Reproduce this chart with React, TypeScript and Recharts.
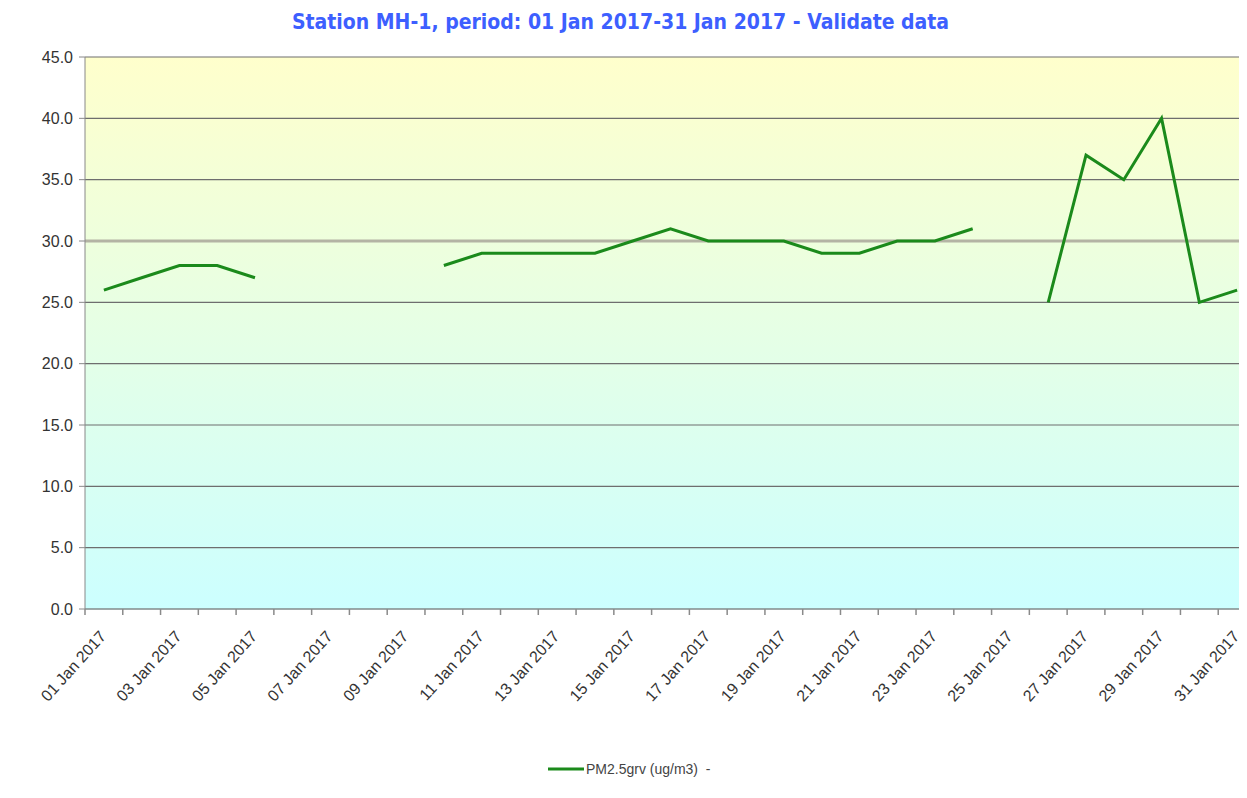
import { LineChart, Line, XAxis, YAxis, CartesianGrid, ReferenceLine, Legend } from 'recharts';

const dates = [
  '01 Jan 2017', '02 Jan 2017', '03 Jan 2017', '04 Jan 2017', '05 Jan 2017', '06 Jan 2017', '07 Jan 2017',
  '08 Jan 2017', '09 Jan 2017', '10 Jan 2017', '11 Jan 2017', '12 Jan 2017', '13 Jan 2017', '14 Jan 2017',
  '15 Jan 2017', '16 Jan 2017', '17 Jan 2017', '18 Jan 2017', '19 Jan 2017', '20 Jan 2017', '21 Jan 2017',
  '22 Jan 2017', '23 Jan 2017', '24 Jan 2017', '25 Jan 2017', '26 Jan 2017', '27 Jan 2017', '28 Jan 2017',
  '29 Jan 2017', '30 Jan 2017', '31 Jan 2017',
];

const pm25 = [
  26, 27, 28, 28, 27, null, null, null, null, 28, 29, 29, 29, 29, 30, 31,
  30, 30, 30, 29, 29, 30, 30, 31, null, 25, 37, 35, 40, 25, 26,
];

const yTicks = [0, 5, 10, 15, 20, 25, 30, 35, 40, 45];

const data = dates.map((d, i) => ({ day: i + 1, date: d, pm25: pm25[i] }));
// ticks at day boundaries (x.5) get a tick mark, odd days get a label
const xTicks = [0.5, ...data.flatMap((p) => [p.day, p.day + 0.5])];

const font = 'Liberation Sans, Arial, sans-serif';

const DateTick = ({ x, y, payload }: any) => {
  const v = payload.value;
  if (!Number.isInteger(v)) {
    return <line x1={x} y1={y} x2={x} y2={y + 6} stroke="#8a8a8a" strokeWidth={1.5} />;
  }
  if (v % 2 === 0) return <g />;
  return (
    <g transform={`translate(${x + 3},${y + 28})`}>
      <text x={0} y={0} textAnchor="end" transform="rotate(-48)" fontSize={16} fill="#333" fontFamily={font}>
        {dates[v - 1]}
      </text>
    </g>
  );
};

const LegendBox = () => (
  <div style={{ display: 'flex', alignItems: 'center', fontFamily: font, fontSize: 14, color: '#444' }}>
    <svg width={36} height={8} style={{ marginRight: 2 }}>
      <line x1={0} y1={4} x2={36} y2={4} stroke="#1b8a1b" strokeWidth={3} />
    </svg>
    <span>PM2.5grv (ug/m3)&nbsp;&nbsp;-</span>
  </div>
);

const App = () => (
  <div style={{ position: 'relative', margin: -8, width: 1247, height: 798, overflow: 'hidden', background: '#fff' }}>
    <div style={{
      position: 'absolute', top: 10, left: 0, width: 1241, textAlign: 'center', zIndex: 2,
      fontFamily: 'DejaVu Sans Condensed, DejaVu Sans, sans-serif', fontWeight: 'bold', fontSize: 21, color: '#3d5fff',
    }}>
      Station MH-1, period: 01 Jan 2017-31 Jan 2017 - Validate data
    </div>
    <LineChart width={1270} height={798} data={data} margin={{ top: 57, right: 14, bottom: 59, left: 0 }}>
      <defs>
        <linearGradient id="bg" x1="0" y1="0" x2="0" y2="1">
          <stop offset="0%" stopColor="#ffffcc" />
          <stop offset="100%" stopColor="#ccffff" />
        </linearGradient>
      </defs>
      <CartesianGrid vertical={false} fill="url(#bg)" stroke="#6e6e6e" strokeWidth={1.2} />
      <XAxis type="number" dataKey="day" domain={[0.5, data.length + 0.5]} ticks={xTicks}
        height={130} tickSize={0} tickMargin={0} tickLine={false} tick={<DateTick />} interval={0}
        axisLine={{ stroke: '#8a9a9a' }} />
      <YAxis domain={[0, 45]} ticks={yTicks} width={85} tickSize={6} tickMargin={6}
        tickFormatter={(v: number) => v.toFixed(1)} stroke="#888"
        tick={{ fontSize: 16, fill: '#333', fontFamily: font }} />
      <ReferenceLine y={30} stroke="#b4b4a4" strokeWidth={3} />
      <Legend layout="vertical" align="center" verticalAlign="middle" content={<LegendBox />}
        wrapperStyle={{ top: 761, left: 548, width: 'auto' }} />
      <Line type="linear" dataKey="pm25" name="PM2.5grv (ug/m3)" stroke="#1b8a1b" strokeWidth={3}
        dot={false} connectNulls={false} isAnimationActive={false} />
    </LineChart>
  </div>
);

export default App;
